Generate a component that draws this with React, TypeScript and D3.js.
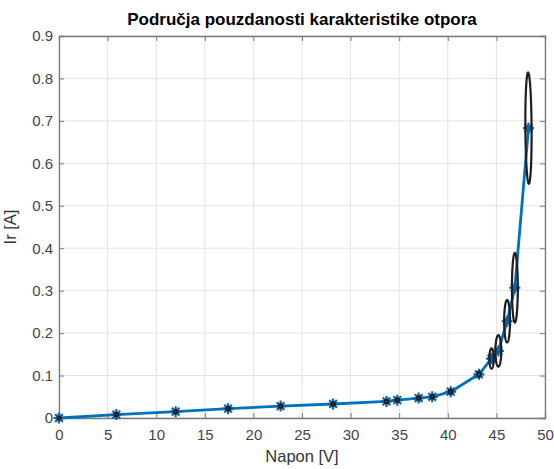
import { useEffect, useRef } from "react";
import * as d3 from "d3";

// measured points: voltage [V] and current [A]
const napon = [0, 5.9, 12.0, 17.4, 22.8, 28.2, 33.7, 34.8, 37.0, 38.4, 40.3, 43.2, 44.5, 45.2, 46.1, 46.9, 48.3];
const struja = [0, 0.008, 0.015, 0.022, 0.028, 0.033, 0.039, 0.042, 0.047, 0.05, 0.062, 0.103, 0.14, 0.158, 0.228, 0.307, 0.683];

// confidence region half-widths (V), half-heights (A) and tilt (V per 0.1 A)
const poluV = [0.15, 0.18, 0.18, 0.18, 0.18, 0.18, 0.18, 0.18, 0.18, 0.18, 0.18, 0.18, 0.22, 0.3, 0.3, 0.3, 0.32];
const poluI = [0.003, 0.004, 0.004, 0.004, 0.004, 0.004, 0.004, 0.004, 0.004, 0.004, 0.005, 0.006, 0.024, 0.037, 0.05, 0.082, 0.131];
const nagib = [0, 0, 0, 0, 0, 0, 0, 0, 0, 0, 0, 0, 0, 0, 0, 0, -0.03];

const xTicks = [0, 5, 10, 15, 20, 25, 30, 35, 40, 45, 50];
const yTicks = [0, 0.1, 0.2, 0.3, 0.4, 0.5, 0.6, 0.7, 0.8, 0.9];

const W = 554;
const H = 469;
const FONT = "'Liberation Sans', Arial, Helvetica, sans-serif";

export default function App() {
  const svgRef = useRef<SVGSVGElement | null>(null);

  useEffect(() => {
    const svgEl = svgRef.current;
    if (!svgEl) return;
    const margin = { top: 36, right: 9, bottom: 51, left: 59 };
    const innerW = W - margin.left - margin.right;
    const innerH = H - margin.top - margin.bottom;

    const svg = d3.select(svgEl);
    svg.selectAll("*").remove();
    svg.attr("width", W).attr("height", H);
    svg.append("rect").attr("width", W).attr("height", H).attr("fill", "#fff");

    const x = d3.scaleLinear().domain([0, 50]).range([0, innerW]);
    const y = d3.scaleLinear().domain([0, 0.9]).range([innerH, 0]);

    const g = svg.append("g").attr("transform", `translate(${margin.left},${margin.top})`);

    // grid
    g.append("g")
      .selectAll("line")
      .data(xTicks)
      .enter()
      .append("line")
      .attr("x1", (d) => x(d))
      .attr("x2", (d) => x(d))
      .attr("y1", 0)
      .attr("y2", innerH)
      .attr("stroke", "#e3e3e3")
      .attr("stroke-width", 1);
    g.append("g")
      .selectAll("line")
      .data(yTicks)
      .enter()
      .append("line")
      .attr("x1", 0)
      .attr("x2", innerW)
      .attr("y1", (d) => y(d))
      .attr("y2", (d) => y(d))
      .attr("stroke", "#e3e3e3")
      .attr("stroke-width", 1);

    // axes, MATLAB style ticks inward on all four sides
    const style = (sel: any) => {
      sel.select(".domain").attr("stroke", "#7a7a7a").attr("stroke-width", 1.3);
      sel.selectAll(".tick line").attr("stroke", "#7a7a7a");
      sel.selectAll("text").attr("font-family", FONT).attr("font-size", 15).attr("fill", "#444");
    };
    g.append("g")
      .attr("transform", `translate(0,${innerH})`)
      .call(d3.axisBottom(x).tickValues(xTicks).tickSize(-5).tickPadding(11).tickFormat(d3.format("d")) as any)
      .call(style);
    g.append("g")
      .call(d3.axisTop(x).tickValues(xTicks).tickSize(-5).tickFormat(() => "") as any)
      .call(style);
    g.append("g")
      .call(d3.axisLeft(y).tickValues(yTicks).tickSize(-5).tickPadding(6).tickFormat((d: any) => (d === 0 ? "0" : d3.format(".1f")(d))) as any)
      .call(style);
    g.append("g")
      .attr("transform", `translate(${innerW},0)`)
      .call(d3.axisRight(y).tickValues(yTicks).tickSize(-5).tickFormat(() => "") as any)
      .call(style);

    const points = napon.map((v, i) => ({ v, a: struja[i], rv: poluV[i], ra: poluI[i], k: nagib[i] }));

    // characteristic line
    const line = d3
      .line<{ v: number; a: number }>()
      .x((p) => x(p.v))
      .y((p) => y(p.a));
    g.append("path")
      .datum(points)
      .attr("fill", "none")
      .attr("stroke", "#0072BD")
      .attr("stroke-width", 2.8)
      .attr("stroke-linejoin", "round")
      .attr("d", line as any);

    // asterisk markers
    const s = 5.5;
    const mk = g.append("g").attr("stroke", "#0a64a8").attr("stroke-width", 2.2);
    points.forEach((p) => {
      const cx = x(p.v);
      const cy = y(p.a);
      mk.append("path").attr(
        "d",
        `M${cx - s},${cy}L${cx + s},${cy}M${cx},${cy - s}L${cx},${cy + s}` +
          `M${cx - s * 0.7},${cy - s * 0.7}L${cx + s * 0.7},${cy + s * 0.7}` +
          `M${cx - s * 0.7},${cy + s * 0.7}L${cx + s * 0.7},${cy - s * 0.7}`
      );
    });

    // confidence ellipses
    const t = d3.range(0, 2 * Math.PI + 0.01, Math.PI / 60);
    const ell = d3
      .line<[number, number]>()
      .x((d) => x(d[0]))
      .y((d) => y(d[1]))
      .curve(d3.curveLinearClosed);
    g.append("g")
      .selectAll("path")
      .data(points)
      .enter()
      .append("path")
      .attr("fill", "none")
      .attr("stroke", "#1e1e1e")
      .attr("stroke-width", 2.2)
      .attr("d", (p) =>
        ell(t.map((u) => [p.v + p.rv * Math.cos(u) + (p.k * p.ra * Math.sin(u)) / 0.1, p.a + p.ra * Math.sin(u)]))
      );

    // title and labels
    svg.append("text")
      .attr("x", margin.left + innerW / 2)
      .attr("y", 25)
      .attr("text-anchor", "middle")
      .attr("font-family", FONT)
      .attr("font-weight", "bold")
      .attr("font-size", 17)
      .attr("fill", "#000")
      .text("Područja pouzdanosti karakteristike otpora");
    svg.append("text")
      .attr("x", margin.left + innerW / 2)
      .attr("y", 462)
      .attr("text-anchor", "middle")
      .attr("font-family", FONT)
      .attr("font-size", 16.5)
      .attr("fill", "#333")
      .text("Napon [V]");
    svg.append("text")
      .attr("transform", `translate(16,${margin.top + innerH / 2}) rotate(-90)`)
      .attr("text-anchor", "middle")
      .attr("font-family", FONT)
      .attr("font-size", 16.5)
      .attr("fill", "#333")
      .text("Ir [A]");
  }, []);

  return (
    <div style={{ position: "absolute", left: 0, top: 0 }}>
      <svg ref={svgRef} role="img" aria-label="Područja pouzdanosti karakteristike otpora" />
    </div>
  );
}
